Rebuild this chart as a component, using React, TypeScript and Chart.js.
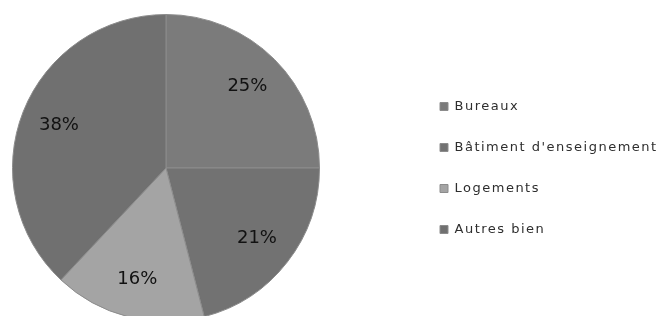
import React, { useEffect, useRef } from "react";
import { Chart, registerables } from "chart.js";

Chart.register(...registerables);

const categories = ["Bureaux", "Bâtiment d'enseignement", "Logements", "Autres bien"];
const values = [25, 21, 16, 38];
const sliceColors = ["#7b7b7b", "#727272", "#a4a4a4", "#707070"];

const SHIFT = 80;

const percentLabels = {
  id: "percentLabels",
  afterDatasetsDraw(chart: any) {
    const ctx = chart.ctx;
    const meta = chart.getDatasetMeta(0);
    const data = chart.data.datasets[0].data as number[];
    const total = data.reduce((a, b) => a + b, 0);
    ctx.save();
    ctx.letterSpacing = "0px";
    ctx.font = "18px 'DejaVu Sans'";
    ctx.fillStyle = "#111111";
    ctx.textAlign = "center";
    ctx.textBaseline = "middle";
    meta.data.forEach((arc: any, i: number) => {
      const p = arc.getProps(["x", "y", "startAngle", "endAngle", "outerRadius"], true);
      const mid = (p.startAngle + p.endAngle) / 2;
      const r = p.outerRadius * 0.75;
      const pct = Math.round((data[i] / total) * 100) + "%";
      ctx.fillText(pct, p.x + Math.cos(mid) * r, p.y + Math.sin(mid) * r);
    });
    ctx.restore();
  },
};

const spacing = {
  id: "spacing",
  beforeLayout(chart: any) {
    chart.ctx.letterSpacing = "1.5px";
  },
  beforeDraw(chart: any) {
    chart.ctx.letterSpacing = "1.5px";
  },
};

export default function App() {
  const ref = useRef<HTMLCanvasElement>(null);
  useEffect(() => {
    document.body.style.margin = "0";
    const chart = new Chart(ref.current!, {
      type: "pie",
      data: {
        labels: categories,
        datasets: [
          {
            data: values,
            backgroundColor: sliceColors,
            borderColor: "#8c8c8c",
            borderWidth: 1,
          },
        ],
      },
      options: {
        responsive: false,
        animation: false,
        layout: { padding: { left: 0, right: 0, top: 14, bottom: 14 } },
        plugins: {
          tooltip: { enabled: false },
          legend: {
            position: "right",
            align: "center",
            maxWidth: 252,
            labels: {
              boxWidth: 8,
              boxHeight: 8,
              padding: 28,
              color: "#2e2e2e",
              font: { family: "'DejaVu Sans'", size: 13 },
            },
          },
        },
      },
      plugins: [spacing, percentLabels],
    });
    return () => chart.destroy();
  }, []);
  return (
    <div
      style={{
        position: "fixed",
        left: 0,
        top: 0,
        width: 664,
        height: 316,
        overflow: "hidden",
        background: "#ffffff",
      }}
    >
      <canvas
        ref={ref}
        width={664 + SHIFT}
        height={336}
        style={{ display: "block", marginLeft: -SHIFT }}
      />
    </div>
  );
}
